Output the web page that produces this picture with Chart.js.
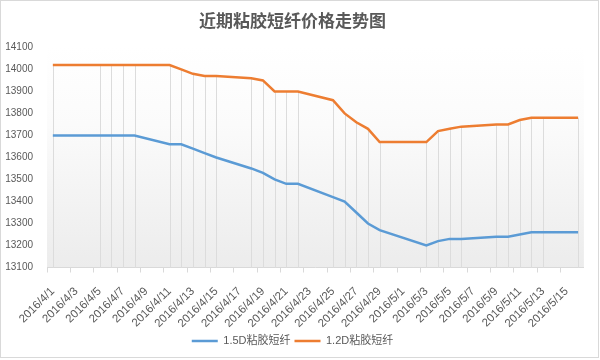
<!DOCTYPE html>
<html><head><meta charset="utf-8">
<script src="https://cdn.jsdelivr.net/npm/chart.js@4.4.0/dist/chart.umd.min.js"></script>
<style>html,body{margin:0;padding:0;background:#fff;}#wrap{width:600px;height:360px;position:relative;}</style>
</head><body><div id="wrap"><canvas id="c" width="600" height="360"></canvas></div>
<script>
const dates = ["2016/4/1","2016/4/2","2016/4/3","2016/4/4","2016/4/5","2016/4/6","2016/4/7","2016/4/8","2016/4/9","2016/4/10",
"2016/4/11","2016/4/12","2016/4/13","2016/4/14","2016/4/15","2016/4/16","2016/4/17","2016/4/18","2016/4/19","2016/4/20",
"2016/4/21","2016/4/22","2016/4/23","2016/4/24","2016/4/25","2016/4/26","2016/4/27","2016/4/28","2016/4/29","2016/4/30",
"2016/5/1","2016/5/2","2016/5/3","2016/5/4","2016/5/5","2016/5/6","2016/5/7","2016/5/8","2016/5/9","2016/5/10",
"2016/5/11","2016/5/12","2016/5/13","2016/5/14","2016/5/15","2016/5/16"];
const tickLabels = ["2016/4/1","2016/4/3","2016/4/5","2016/4/7","2016/4/9","2016/4/11","2016/4/13","2016/4/15","2016/4/17","2016/4/19",
"2016/4/21","2016/4/23","2016/4/25","2016/4/27","2016/4/29","2016/5/1","2016/5/3","2016/5/5","2016/5/7","2016/5/9",
"2016/5/11","2016/5/13","2016/5/15"];
const seriesNames = ["1.5D粘胶短纤","1.2D粘胶短纤"];
const viscose15D = [13700,null,null,null,13700,13700,13700,13700,null,null,
13660,13660,13640,13620,13600,null,null,13550,13530,13500,
13480,13480,null,null,13420,13400,13350,13300,13270,null,
null,null,13200,13220,13230,13230,null,null,13240,13240,
13250,13260,13260,null,null,13260];
const viscose12D = [14020,null,null,null,14020,14020,14020,14020,null,null,
14020,14000,13980,13970,13970,null,null,13960,13950,13900,
13900,13900,null,null,13860,13800,13760,13730,13670,null,
null,null,13670,13720,13730,13740,null,null,13750,13750,
13770,13780,13780,null,null,13780];
const yTicks = [13100,13200,13300,13400,13500,13600,13700,13800,13900,14000,14100];

const txt = '#595959';
const frame = {
  id:'frame',
  beforeDraw(chart){
    const {ctx, chartArea:a} = chart;
    ctx.save();
    ctx.fillStyle='#fff'; ctx.fillRect(0,0,chart.width,chart.height);
    const g = ctx.createLinearGradient(0,a.top,0,a.bottom);
    g.addColorStop(0,'#ffffff'); g.addColorStop(0.35,'#fbfbfb'); g.addColorStop(1,'#ececec');
    ctx.fillStyle=g; ctx.fillRect(a.left,a.top,a.right-a.left,a.bottom-a.top);
    ctx.strokeStyle='#d9d9d9'; ctx.lineWidth=1;
    ctx.strokeRect(0.5,0.5,598,357);
    ctx.restore();
  },
  beforeDatasetsDraw(chart){
    const {ctx, chartArea:a, scales:{x,y}} = chart;
    ctx.save();
    ctx.strokeStyle='#dcdcdc'; ctx.lineWidth=1;
    for(let i=0;i<dates.length;i++){
      const vals=[viscose15D[i],viscose12D[i]].filter(v=>v!==null);
      if(!vals.length) continue;
      const px=Math.round(x.getPixelForValue(i))+0.5;
      const top=Math.min(...vals.map(v=>y.getPixelForValue(v)));
      ctx.beginPath(); ctx.moveTo(px,top); ctx.lineTo(px,a.bottom); ctx.stroke();
    }
    ctx.restore();
  }
};

new Chart(document.getElementById('c'),{
  type:'line',
  data:{labels:dates,datasets:[
    {label:seriesNames[0],data:viscose15D,borderColor:'#5b9bd5',backgroundColor:'#5b9bd5',borderWidth:2.5,pointRadius:0,tension:0,spanGaps:true},
    {label:seriesNames[1],data:viscose12D,borderColor:'#ed7d31',backgroundColor:'#ed7d31',borderWidth:2.5,pointRadius:0,tension:0,spanGaps:true}
  ]},
  options:{
    responsive:false,animation:false,
    layout:{padding:{left:0,right:15,top:0,bottom:3.5}},
    plugins:{
      title:{display:true,text:'近期粘胶短纤价格走势图',color:txt,font:{family:'"Noto Sans CJK SC"',size:17,weight:'bold'},padding:{top:10,bottom:17}},
      legend:{position:'bottom',labels:{usePointStyle:true,pointStyle:'line',pointStyleWidth:26,color:txt,font:{family:'"Liberation Sans","Noto Sans CJK SC"',size:11},padding:4}},
      tooltip:{enabled:false}
    },
    scales:{
      x:{
        offset:true,
        grid:{offset:true,drawOnChartArea:false,drawTicks:true,tickLength:5,color:(c)=>c.index%2===0?'#d9d9d9':'rgba(0,0,0,0)'},
        border:{display:true,color:'#d9d9d9'},
        ticks:{autoSkip:false,minRotation:45,maxRotation:45,padding:12,color:txt,font:{family:'"Liberation Sans"',size:11.5},
          callback:(v,i)=>tickLabels.includes(dates[i])?dates[i]:''},
        afterFit:(s)=>{s.height=64;}
      },
      y:{
        min:13100,max:14100,
        afterBuildTicks:(s)=>{s.ticks=yTicks.map(v=>({value:v}));},
        grid:{display:false,drawTicks:false},
        border:{display:false},
        ticks:{padding:14,color:txt,font:{family:'"Liberation Sans"',size:10},callback:(v)=>String(v)},
        afterFit:(s)=>{s.width=47;}
      }
    }
  },
  plugins:[frame]
});
</script></body></html>
